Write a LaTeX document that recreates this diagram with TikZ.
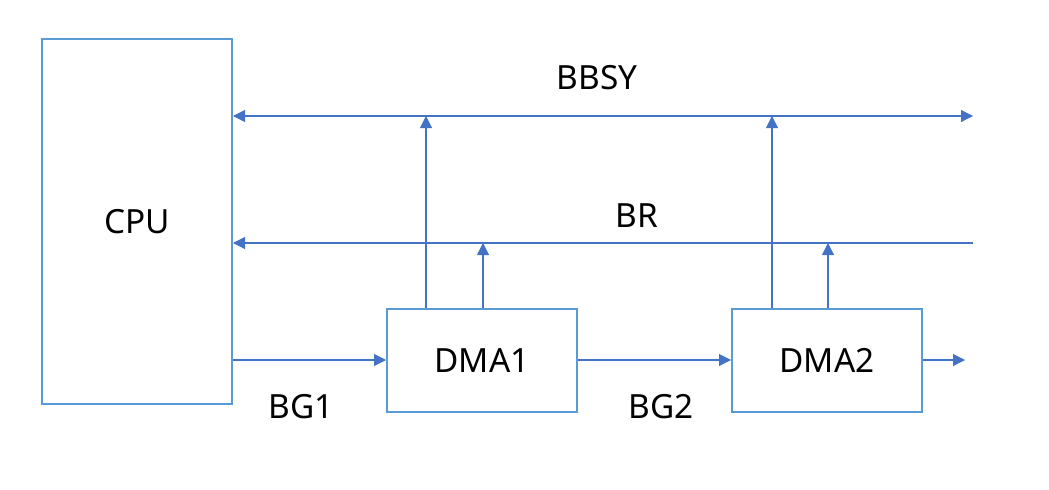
\documentclass[tikz,border=0pt]{standalone}
\usepackage{fontspec}
\setmainfont{Noto Sans}
\usetikzlibrary{arrows.meta, positioning}

\definecolor{boxblue}{HTML}{5B9BD5}
\definecolor{lineblue}{HTML}{4472C4}

\begin{document}
\begin{tikzpicture}[x=0.75pt, y=-0.75pt,
        box/.style = {draw=boxblue, line width=1.5pt, font=\fontsize{25}{30}\selectfont, inner sep=0pt},
        bus/.style = {draw=lineblue, line width=0.8pt},
        tip/.style = {-{Triangle[length=9pt, width=9pt]}},
        lbl/.style = {font=\fontsize{25}{30}\selectfont, inner sep=0pt}]
        \useasboundingbox (0,0) rectangle (1049,489);
        \node[box, minimum width=142.5pt, minimum height=273.75pt] (cpu) at (137,221.5) {CPU};
        \node[box, minimum width=142.5pt, minimum height=77.25pt] (dma1) at (482,360.5) {DMA1};
        \node[box, minimum width=142.5pt, minimum height=77.25pt] (dma2) at (827,360.5) {DMA2};
        % bus ends
        \coordinate (bbsy) at (973,116);
        \coordinate (br) at (973,243);
        \coordinate (out) at (965,360);
        \coordinate (up1) at (426,116);
        \coordinate (req1) at (483,243);
        \coordinate (up2) at (772,116);
        \coordinate (req2) at (828,243);
        \draw[bus, {Triangle[length=9pt, width=9pt]}-{Triangle[length=9pt, width=9pt]}] (cpu.east |- bbsy) -- (bbsy);
        \draw[bus, {Triangle[length=9pt, width=9pt]}-] (cpu.east |- br) -- (br);
        \draw[bus, tip] (dma1.north -| up1) -- (up1);
        \draw[bus, tip] (dma1.north -| req1) -- (req1);
        \draw[bus, tip] (dma2.north -| up2) -- (up2);
        \draw[bus, tip] (dma2.north -| req2) -- (req2);
        \draw[bus, tip] (cpu.east |- out) -- (dma1.west |- out);
        \draw[bus, tip] (dma1.east |- out) -- (dma2.west |- out);
        \draw[bus, tip] (dma2.east |- out) -- (out);
        % labels
        \node[lbl] (bbsylbl) at (597,78) {BBSY};
        \node[lbl] (brlbl) at (637,216) {BR};
        \node[lbl] (bg1) at (301,407) {BG1};
        \node[lbl] (bg2) at (661,407) {BG2};
\end{tikzpicture}
\end{document}
